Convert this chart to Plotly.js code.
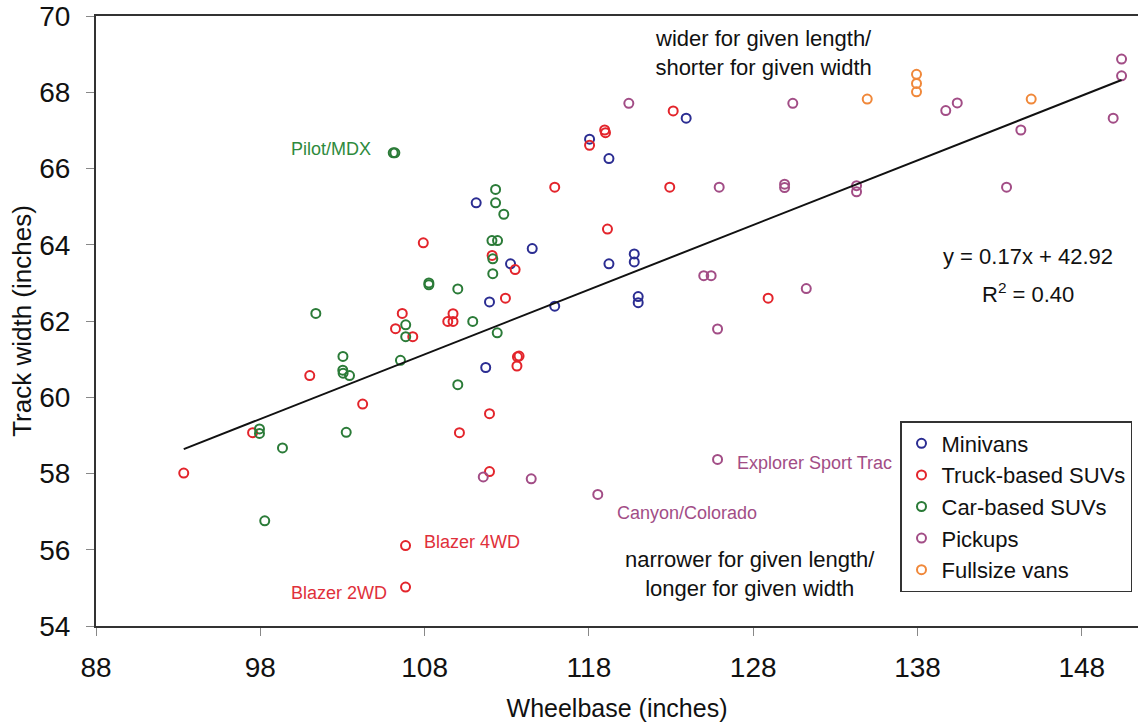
<!DOCTYPE html>
<html>
<head>
<meta charset="utf-8">
<script src="https://cdn.plot.ly/plotly-3.0.1.min.js"></script>
<style>
  html, body { margin: 0; padding: 0; background: #ffffff; }
  #chart { width: 1138px; height: 724px; }
</style>
</head>
<body>
<div id="chart"></div>
<script>
// ---- Data (wheelbase, track width in inches) ----
const minivanX = [111.14, 113.23, 114.55, 111.95, 115.92, 111.72, 118.04, 119.22, 123.92, 120.76, 120.76, 119.22, 121.00, 121.00];
const minivanY = [65.10, 63.50, 63.90, 62.50, 62.39, 60.78, 66.77, 66.26, 67.32, 63.76, 63.55, 63.50, 62.64, 62.48];

const truckX = [93.34, 97.53, 101.01, 104.23, 106.23, 106.64, 107.28, 107.92, 109.41, 109.73, 109.73, 110.12, 111.95, 111.95, 112.11, 112.92, 113.51, 113.65, 113.75, 113.62, 115.92, 118.04, 118.96, 119.01, 119.13, 122.92, 123.13, 128.91, 106.84, 106.84];
const truckY = [58.01, 59.07, 60.57, 59.82, 61.80, 62.20, 61.59, 64.05, 61.99, 62.19, 61.99, 59.07, 59.57, 58.05, 63.72, 62.60, 63.35, 61.06, 61.08, 60.82, 65.51, 66.61, 67.01, 66.94, 64.41, 65.51, 67.51, 62.60, 56.11, 55.02];

const carX = [97.95, 97.95, 98.27, 99.35, 101.38, 103.03, 103.02, 103.04, 103.43, 103.23, 106.09, 106.19, 106.53, 106.85, 106.85, 108.26, 108.26, 110.02, 110.02, 110.93, 112.10, 112.44, 112.15, 112.15, 112.32, 112.32, 112.82, 112.42];
const carY = [59.17, 59.05, 56.76, 58.67, 62.20, 61.07, 60.71, 60.63, 60.57, 59.08, 66.41, 66.41, 60.97, 61.90, 61.59, 63.00, 62.95, 62.84, 60.33, 61.99, 64.11, 64.11, 63.63, 63.24, 65.45, 65.10, 64.80, 61.69];

const pickupX = [111.57, 114.49, 118.54, 120.43, 124.99, 125.44, 125.83, 125.83, 125.93, 129.91, 129.91, 130.41, 131.23, 134.29, 134.29, 139.72, 140.42, 143.42, 144.29, 149.91, 150.42, 150.42];
const pickupY = [57.91, 57.86, 57.45, 67.71, 63.19, 63.19, 61.79, 58.37, 65.51, 65.59, 65.50, 67.71, 62.85, 65.55, 65.39, 67.52, 67.72, 65.51, 67.01, 67.32, 68.87, 68.43];

const vanX = [134.94, 137.94, 137.94, 137.94, 144.92];
const vanY = [67.82, 68.47, 68.23, 68.01, 67.82];

// linear trend line as drawn in the reference (end points)
const trendX = [93.34, 150.42];
const trendY = [58.64, 68.32];

const seriesNames = ["Minivans", "Truck-based SUVs", "Car-based SUVs", "Pickups", "Fullsize vans"];
const seriesColors = ["#2b2d92", "#e3242b", "#2b7b38", "#a24d86", "#f0883a"];

const xTicks = [88, 98, 108, 118, 128, 138, 148];
const yTicks = [54, 56, 58, 60, 62, 64, 66, 68, 70];

const equationText = "y = 0.17x + 42.92";
const r2Text = "R<sup>2</sup> = 0.40";

// ---- Build traces ----
const xs = [minivanX, truckX, carX, pickupX, vanX];
const ys = [minivanY, truckY, carY, pickupY, vanY];

const traces = seriesNames.map((name, i) => ({
  type: "scatter",
  mode: "markers",
  name: name,
  x: xs[i],
  y: ys[i],
  marker: {
    symbol: "circle-open",
    size: 9,
    color: seriesColors[i],
    line: { width: 2, color: seriesColors[i] }
  },
  hoverinfo: "x+y+name"
}));

traces.push({
  type: "scatter",
  mode: "lines",
  x: trendX,
  y: trendY,
  line: { color: "#111111", width: 2 },
  showlegend: false,
  hoverinfo: "skip"
});

// ---- Layout ----
const W = 1138, H = 724;
const M = { l: 96, r: 0, t: 16, b: 98 };
const plotW = W - M.l - M.r, plotH = H - M.t - M.b;
const px = v => (v - M.l) / plotW;      // pixel x -> paper
const py = v => (H - M.b - v) / plotH;  // pixel y -> paper

const sans = "'Liberation Sans', Arial, Helvetica, sans-serif";
const narrow = "'Liberation Sans Narrow', 'Arial Narrow', 'Liberation Sans', Arial, sans-serif";

function note(text, x, y, color, size, xanchor) {
  return {
    text: text, xref: "paper", yref: "paper", x: px(x), y: py(y),
    xanchor: xanchor || "center", yanchor: "middle", showarrow: false,
    font: { family: sans, size: size, color: color }
  };
}

const layout = {
  width: W, height: H,
  margin: M,
  paper_bgcolor: "#ffffff",
  plot_bgcolor: "#ffffff",
  showlegend: true,
  xaxis: {
    range: [88, 88 + plotW / 16.43],
    tickvals: xTicks,
    ticktext: xTicks.map(String),
    ticks: "outside", ticklen: 8, tickwidth: 1, tickcolor: "#888888",
    showline: true, linecolor: "#333333", linewidth: 2, mirror: true,
    showgrid: false, zeroline: false,
    tickfont: { family: narrow, size: 28, color: "#111111" },
    ticklabelstandoff: 7,
    title: { text: "Wheelbase (inches)", font: { family: sans, size: 25, color: "#111111" }, standoff: 18 }
  },
  yaxis: {
    range: [54, 70],
    tickvals: yTicks,
    ticktext: yTicks.map(String),
    ticks: "outside", ticklen: 8, tickwidth: 1, tickcolor: "#888888",
    showline: true, linecolor: "#333333", linewidth: 2, mirror: false,
    showgrid: false, zeroline: false,
    tickfont: { family: narrow, size: 28, color: "#111111" },
    ticklabelstandoff: 10,
    title: { text: "Track width (inches)", font: { family: sans, size: 26, color: "#111111" }, standoff: 0 }
  },
  legend: {
    x: px(900), y: py(421), xanchor: "left", yanchor: "top",
    bgcolor: "#ffffff", bordercolor: "#333333", borderwidth: 1.5,
    font: { family: sans, size: 22, color: "#111111" },
    itemwidth: 30
  },
  annotations: [
    note("wider for given length/<br>shorter for given width", 763, 53, "#111111", 22),
    note("narrower for given length/<br>longer for given width", 750, 574, "#111111", 22),
    note(equationText, 1028, 256, "#111111", 22),
    note(r2Text, 1028, 293, "#111111", 22),
    note("Pilot/MDX", 331, 149, "#2e8a3c", 18),
    note("Blazer 4WD", 422, 542, "#e0303a", 18, "left"),
    note("Blazer 2WD", 339, 593, "#e0303a", 18),
    note("Canyon/Colorado", 615, 513, "#a24d86", 18, "left"),
    note("Explorer Sport Trac", 735, 463, "#a24d86", 18, "left")
  ]
};

Plotly.newPlot("chart", traces, layout, { displayModeBar: false, staticPlot: true });
</script>
</body>
</html>
